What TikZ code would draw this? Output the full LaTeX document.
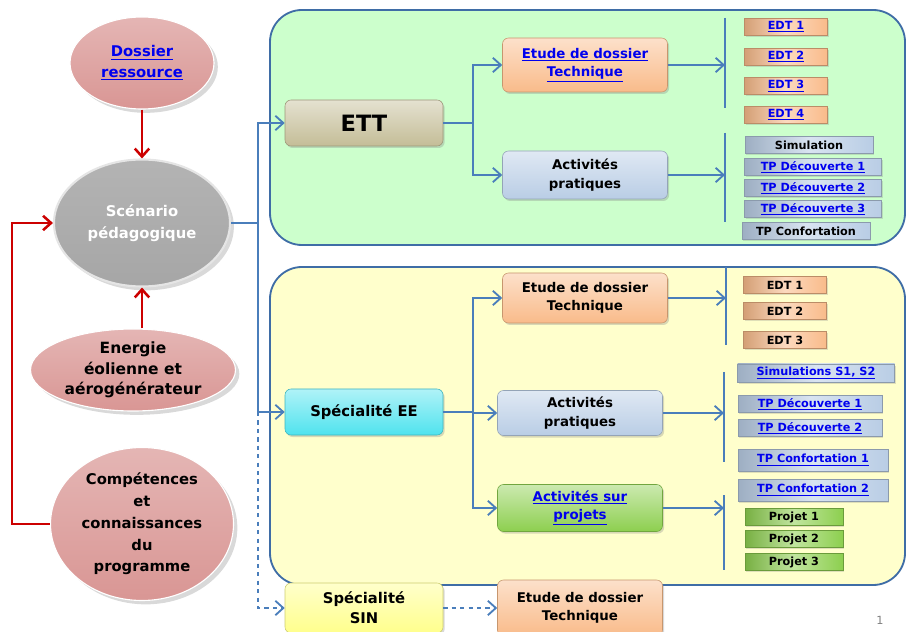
\documentclass[tikz,border=0pt]{standalone}
\usepackage{fontspec}
\setmainfont{DejaVu Sans}
\usetikzlibrary{arrows.meta, positioning, shapes, shadows}

\definecolor{ettTan}{HTML}{C4BD97}
\definecolor{edtOrange}{HTML}{F9BB8A}
\definecolor{tpBlue}{HTML}{B9CDE5}
\definecolor{eeCyan}{HTML}{4FE3EE}
\definecolor{projGreen}{HTML}{8DCF4F}
\definecolor{sinYellow}{HTML}{FFFF8C}
\definecolor{bubblePink}{HTML}{D99694}
\definecolor{scenGray}{HTML}{A6A6A6}
\definecolor{flowBlue}{HTML}{4A7EBB}
\definecolor{panelEdge}{HTML}{3F6DA6}
\definecolor{ettPanel}{HTML}{CCFFCC}
\definecolor{eePanel}{HTML}{FFFFCC}
\definecolor{redLoop}{HTML}{CC0000}
\definecolor{linkBlue}{HTML}{0000EE}

\newcommand{\lnk}[1]{\textcolor{linkBlue}{\underline{#1}}}

\begin{document}
\begin{tikzpicture}[x=0.25mm, y=-0.25mm, >={Straight Barb[length=2mm, width=3.6mm]},
      panel/.style = {draw=panelEdge, line width=1.3pt, rounded corners=8mm,
        fill=#1, minimum width=158.75mm},
      bubble/.style = {ellipse, inner sep=0pt, align=center, draw=white,
        line width=0.8pt, top color=#1!70!white, bottom color=#1,
        drop shadow={opacity=0.3}},
      block/.style = {rectangle, rounded corners=1.5mm, align=center,
        draw=#1!80!black, line width=0.4pt, top color=#1!45!white, bottom color=#1,
        font=\fontsize{9.5}{13}\selectfont\bfseries,
        drop shadow={opacity=0.3, shadow xshift=0.4mm, shadow yshift=-0.5mm}},
      tag/.style = {rectangle, inner sep=0pt, minimum height=4.25mm,
        draw=#1!75!black, line width=0.3pt, left color=#1!85!black,
        right color=#1, middle color=#1!55!white,
        font=\fontsize{8}{9}\selectfont\bfseries,
        drop shadow={opacity=0.25, shadow xshift=0.3mm, shadow yshift=-0.4mm}},
      flow/.style = {draw=flowBlue, line width=1.3pt},
      barline/.style = {draw=flowBlue, line width=2pt},
      redline/.style = {draw=redLoop, line width=1.8pt, ->}]

    \useasboundingbox (0,0) rectangle (908,632);

    \node[panel=ettPanel, minimum height=58.75mm] (ettzone) at (587.5,127.5) {};
    \node[panel=eePanel, minimum height=79.5mm] (eezone) at (587.5,426) {};

    \node[bubble=bubblePink, minimum width=36mm, minimum height=23mm,
      font=\fontsize{10.5}{14.5}\selectfont\bfseries] (dossier) at (142,63)
      {\lnk{Dossier}\\\lnk{ressource}};
    \node[bubble=scenGray, top color=scenGray!85!white, minimum width=44mm,
      minimum height=31.75mm, text=white, draw=white!80!gray, line width=1.5pt,
      font=\fontsize{10.5}{16}\selectfont\bfseries] (scenario) at (142,223)
      {Scénario\\pédagogique};
    \node[bubble=bubblePink, minimum width=51.25mm, minimum height=20.5mm,
      font=\fontsize{11}{14.5}\selectfont\bfseries] (energie) at (133,370)
      {Energie\\éolienne et\\aérogénérateur};
    \node[bubble=bubblePink, minimum width=45.75mm, minimum height=38.25mm,
      font=\fontsize{10.5}{15.5}\selectfont\bfseries] (competences) at (142,524)
      {Compétences\\et\\connaissances\\du\\programme};

    \node[block=ettTan, minimum width=39.5mm, minimum height=11.5mm,
      font=\fontsize{16}{18}\selectfont\bfseries] (ett) at (364,123) {ETT};
    \node[block=edtOrange, minimum width=41.25mm, minimum height=13.5mm] (etudeA)
      at (585,65) {\lnk{Etude de dossier}\\\lnk{Technique}};
    \node[block=tpBlue, minimum width=41.25mm, minimum height=12mm] (pratiqueA)
      at (585,175) {Activités\\pratiques};

    \foreach \k/\y in {1/27, 2/57, 3/86, 4/115}
      \node[tag=edtOrange, minimum width=20.75mm] (edtA\k) at (786,\y) {\lnk{EDT \k}};
    \node[tag=tpBlue, minimum width=32mm] (simA) at (809,145) {Simulation};
    \foreach \k/\y in {1/167, 2/188, 3/209}
      \node[tag=tpBlue, minimum width=34.25mm] (decA\k) at (813,\y) {\lnk{TP Découverte \k}};
    \node[tag=tpBlue, minimum width=32mm] (confA) at (806,231) {TP Confortation};

    \node[block=eeCyan, minimum width=39.5mm, minimum height=11.5mm,
      font=\fontsize{10.5}{14}\selectfont\bfseries] (ee) at (364,412) {Spécialité EE};
    \node[block=edtOrange, minimum width=41.25mm, minimum height=12.5mm] (etudeB)
      at (585,298) {Etude de dossier\\Technique};
    \node[block=tpBlue, minimum width=41.25mm, minimum height=11.25mm] (pratiqueB)
      at (580,413) {Activités\\pratiques};
    \node[block=projGreen, minimum width=41.25mm, minimum height=11.75mm] (projets)
      at (580,508) {\lnk{Activités sur}\\\lnk{projets}};

    \foreach \k/\y in {1/285, 2/311, 3/340}
      \node[tag=edtOrange, minimum width=20.75mm] (edtB\k) at (785,\y) {EDT \k};
    \node[tag=tpBlue, minimum width=39.25mm, minimum height=4.5mm] (simB)
      at (816,373) {\lnk{Simulations S1, S2}};
    \foreach \k/\y in {1/404, 2/428}
      \node[tag=tpBlue, minimum width=36mm] (decB\k) at (810,\y) {\lnk{TP Découverte \k}};
    \foreach \k/\y in {1/460, 2/490}
      \node[tag=tpBlue, minimum width=37.5mm, minimum height=5.5mm] (confB\k)
        at (813,\y) {\lnk{TP Confortation \k}};
    \foreach \k/\y in {1/517, 2/539, 3/562}
      \node[tag=projGreen, minimum width=24.5mm] (projet\k) at (794,\y) {Projet \k};

    \node[block=sinYellow, minimum width=39.5mm, minimum height=12.5mm,
      font=\fontsize{10.5}{14}\selectfont\bfseries] (sin) at (364,608) {Spécialité\\SIN};
    \node[block=edtOrange, minimum width=41.25mm, minimum height=14mm] (etudeC)
      at (580,608) {Etude de dossier\\Technique};
    \node[text=gray, font=\fontsize{8}{9}\selectfont] (pagenum) at (880,620) {1};

    \draw[redline] (dossier.south) -- (scenario.north);
    \draw[redline] (scenario.south |- energie.north) -- (scenario.south);
    \draw[redline] (competences.west) -- ++(-38,0) |- (scenario.west);

    \coordinate (trunk) at (258,0);
    \draw[flow] (scenario.east) -- (scenario.east -| trunk);
    \draw[flow, ->] (scenario.east -| trunk) |- (ett.west);
    \draw[flow, ->] (scenario.east -| trunk) |- (ee.west);
    \draw[flow, ->, dashed] (ee.west -| trunk) |- (sin.west);
    \draw[flow, ->, dashed] (sin.east) -- (etudeC.west);

    \coordinate (forkA) at (473,0);
    \draw[flow] (ett.east) -- (ett.east -| forkA);
    \draw[flow, ->] (ett.east -| forkA) |- (etudeA.west);
    \draw[flow, ->] (ett.east -| forkA) |- (pratiqueA.west);

    \coordinate (forkB) at (473,0);
    \draw[flow] (ee.east) -- (ee.east -| forkB);
    \draw[flow, ->] (ee.east -| forkB) |- (etudeB.west);
    \draw[flow, ->] (ee.east -| forkB) |- (pratiqueB.west);
    \draw[flow, ->] (ee.east -| forkB) |- (projets.west);

    \coordinate (barA1) at (725,18);   \coordinate (barA2) at (725,108);
    \coordinate (barB1) at (725,133);  \coordinate (barB2) at (725,222);
    \coordinate (barC1) at (726,267);  \coordinate (barC2) at (726,345);
    \coordinate (barD1) at (724,372);  \coordinate (barD2) at (724,462);
    \coordinate (barE1) at (724,495);  \coordinate (barE2) at (724,570);
    \foreach \b in {A, B, C, D, E}
      \draw[barline] (bar\b1) -- (bar\b2);

    \draw[flow, ->] (etudeA.east) -- (etudeA.east -| barA1);
    \draw[flow, ->] (pratiqueA.east) -- (pratiqueA.east -| barB1);
    \draw[flow, ->] (etudeB.east) -- (etudeB.east -| barC1);
    \draw[flow, ->] (pratiqueB.east) -- (pratiqueB.east -| barD1);
    \draw[flow, ->] (projets.east) -- (projets.east -| barE1);
\end{tikzpicture}
\end{document}
